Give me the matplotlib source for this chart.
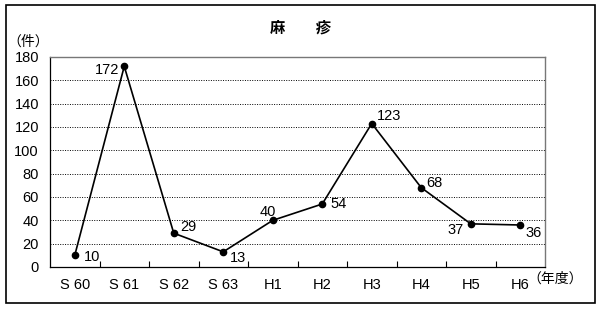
import matplotlib
matplotlib.use('Agg')
import matplotlib.pyplot as plt
from matplotlib.patches import Rectangle

plt.rcParams['font.family'] = ['Liberation Sans', 'Noto Sans CJK JP']

# 年度ごとの件数
years = ['S 60', 'S 61', 'S 62', 'S 63', 'H1', 'H2', 'H3', 'H4', 'H5', 'H6']
counts = [10, 172, 29, 13, 40, 54, 123, 68, 37, 36]
# ラベル位置(点からのずれ, ピクセル)
label_off = [(17, -2), (-17, -4), (15, 6), (15, -6), (-5, 8), (16, 0), (17, 7), (13, 5), (-15, -6), (13, -8)]

fig = plt.figure(figsize=(6, 3.1), dpi=100)
ax = fig.add_axes([50 / 600, 1 - 267 / 310, 495 / 600, 210 / 310])

x = list(range(len(years)))
ax.plot(x, counts, color='black', lw=1.2, marker='o', ms=4.5, zorder=3)
for i, v in enumerate(counts):
    dx, dy = label_off[i]
    ax.annotate(str(v), (i, v), xytext=(dx, dy), textcoords='offset pixels',
                ha='center', va='center', fontsize=10.5)

ax.set_xlim(-0.5, 9.5)
ax.set_ylim(0, 180)
ax.set_yticks(range(0, 181, 20))
ax.set_xticks(x)
ax.set_xticklabels(years, fontsize=10.5)
ax.tick_params(axis='x', length=0, pad=8)
ax.tick_params(axis='y', length=0, pad=8, labelsize=10.5)
ax.set_xticks([i + 0.5 for i in range(9)], minor=True)
ax.tick_params(axis='x', which='minor', direction='in', length=4, width=0.8)
ax.grid(axis='y', linestyle=(0, (1, 1.5)), color='black', lw=0.7)
for s in ['top', 'right']:
    ax.spines[s].set_color('#777777')
    ax.spines[s].set_linewidth(1.0)
for s in ['left', 'bottom']:
    ax.spines[s].set_linewidth(0.9)

fig.text(300 / 600, 1 - 28 / 310, '麻　　疹', ha='center', va='center', fontsize=11, fontweight='bold')
fig.text(28 / 600, 1 - 42 / 310, '（件）', ha='center', va='center', fontsize=10)
fig.text(527 / 600, 1 - 279 / 310, '（年度）', ha='left', va='center', fontsize=10)

fig.add_artist(Rectangle((6 / 600, 1 - 303 / 310), 589 / 600, 298 / 310,
                         transform=fig.transFigure, fill=False, lw=1.2, ec='black'))

plt.savefig('out.png', dpi=100)
plt.close()
